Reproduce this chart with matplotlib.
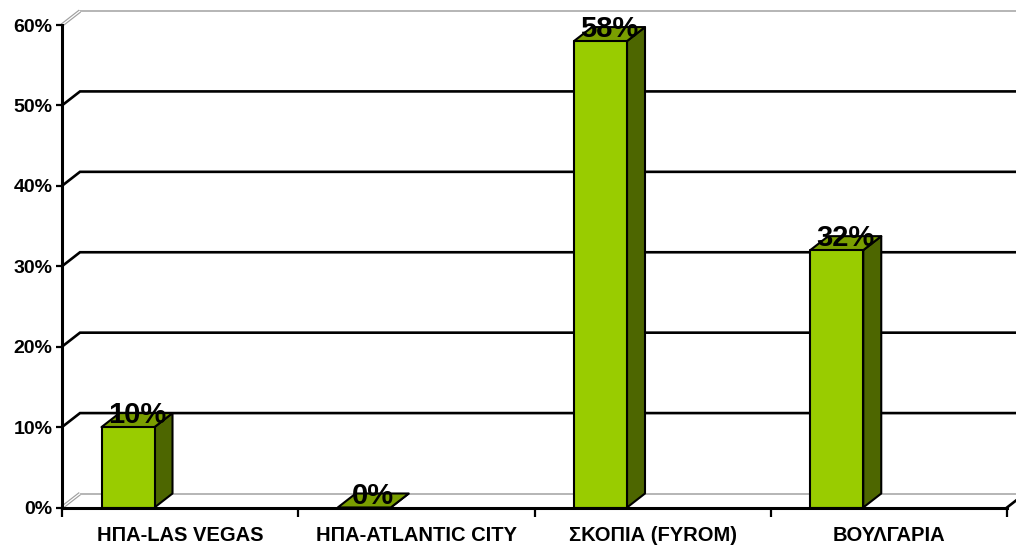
import matplotlib
matplotlib.use("Agg")
import matplotlib.pyplot as plt
from matplotlib.patches import Polygon

# ---- data ----
categories = ["ΗΠΑ-LAS VEGAS", "ΗΠΑ-ATLANTIC CITY", "ΣΚΟΠΙΑ (FYROM)", "ΒΟΥΛΓΑΡΙΑ"]
values = [10, 0, 58, 32]
value_labels = ["10%", "0%", "58%", "32%"]
y_ticks = [0, 10, 20, 30, 40, 50, 60]
y_tick_labels = ["0%", "10%", "20%", "30%", "40%", "50%", "60%"]

plt.rcParams['font.family'] = ['Liberation Sans', 'DejaVu Sans']
plt.rcParams['font.weight'] = 'bold'

W_PX, H_PX = 1016, 550
fig = plt.figure(figsize=(W_PX / 100, H_PX / 100), dpi=100)
left_px, right_px, bottom_px, top_px = 62, 1007, 507.5, 25
ax = fig.add_axes([left_px / W_PX, (H_PX - bottom_px) / H_PX,
                   (right_px - left_px) / W_PX, (bottom_px - top_px) / H_PX])
n = len(categories)
ymax = 60
ax.set_xlim(0, n)
ax.set_ylim(0, ymax)

# depth offsets (data units)
cat_px = (right_px - left_px) / n
unit_px = (bottom_px - top_px) / ymax
dx = 18 / cat_px
dy = 14 / unit_px

# bar geometry (in category units)
bar_off = 39.5 / cat_px
bar_w = 53 / cat_px

front_col = "#99CC00"
side_col = "#4D6600"
top_col = "#7A9E00"

# back wall gridlines
for yv in y_ticks:
    if yv in (0, ymax):
        ax.plot([0, dx], [yv, yv + dy], color="#A0A0A0", lw=2.6, clip_on=False, zorder=1,
                solid_capstyle='butt')
        ax.plot([0, dx], [yv, yv + dy], color="white", lw=0.9, clip_on=False, zorder=1.1,
                solid_capstyle='butt')
        ax.plot([dx, n + dx + 0.2], [yv + dy, yv + dy], color="#B0B0B0", lw=1.3,
                clip_on=False, zorder=1)
    else:
        ax.plot([0, dx, n + dx + 0.2], [yv, yv + dy, yv + dy], color="black", lw=1.9,
                clip_on=False, zorder=1, solid_joinstyle='miter')

# floor right edge
ax.plot([n, n + dx], [0, dy], color="black", lw=1.9, clip_on=False, zorder=1)

# bars
for i, v in enumerate(values):
    x0 = i + bar_off
    x1 = x0 + bar_w
    ec = "black"
    lw = 1.5
    side = Polygon([(x1, 0), (x1 + dx, dy), (x1 + dx, v + dy), (x1, v)], closed=True,
                   facecolor=side_col, edgecolor=ec, lw=lw, zorder=3, clip_on=False,
                   joinstyle='round')
    top = Polygon([(x0, v), (x0 + dx, v + dy), (x1 + dx, v + dy), (x1, v)], closed=True,
                  facecolor=top_col, edgecolor=ec, lw=lw, zorder=3, clip_on=False,
                  joinstyle='round')
    front = Polygon([(x0, 0), (x0, v), (x1, v), (x1, 0)], closed=True,
                    facecolor=front_col, edgecolor=ec, lw=lw, zorder=3.1, clip_on=False,
                    joinstyle='round')
    ax.add_patch(side)
    ax.add_patch(top)
    ax.add_patch(front)
    ax.annotate(value_labels[i], xy=(x0 + bar_w / 2 + dx / 2, v + dy),
                xytext=(0, -7.4), textcoords='offset points',
                ha='center', va='baseline', fontsize=21, fontweight='bold',
                color='black', zorder=5, annotation_clip=False)

# axes styling
for s in ("top", "right"):
    ax.spines[s].set_visible(False)
for s in ("left", "bottom"):
    ax.spines[s].set_linewidth(2.2)
    ax.spines[s].set_color("black")
    ax.spines[s].set_zorder(4)

ax.set_yticks(y_ticks)
ax.set_yticklabels(y_tick_labels)
ax.tick_params(axis='y', direction='out', length=4.5, width=1.6, pad=2.5, labelsize=14,
               colors='black')

ax.set_xticks(range(n + 1))
ax.set_xticklabels([""] * (n + 1))
ax.tick_params(axis='x', which='major', direction='out', length=6.5, width=1.6)
ax.set_xticks([i + 0.5 for i in range(n)], minor=True)
ax.set_xticklabels(categories, minor=True)
ax.tick_params(axis='x', which='minor', length=0, pad=13.5, labelsize=14.5)
for t in ax.get_xticklabels(minor=True) + ax.get_yticklabels():
    t.set_fontweight('bold')

fig.savefig("out.png", dpi=100, facecolor="white")
